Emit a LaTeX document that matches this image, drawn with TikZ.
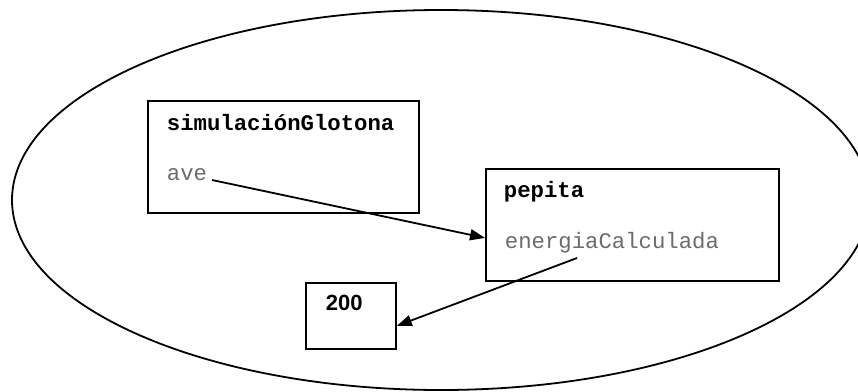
\documentclass[tikz,border=0pt]{standalone}
\usepackage{fontspec}
\setmainfont{Liberation Sans}
\setmonofont{Liberation Mono}
\usetikzlibrary{arrows.meta}
\begin{document}
\begin{tikzpicture}[x=1pt,y=-1pt,line width=1.8pt,
  box/.style={draw, line width=1.8pt, inner sep=0pt, anchor=north west},
  title/.style={font=\fontsize{22.3}{26}\selectfont\ttfamily\bfseries, anchor=base west, inner sep=0pt},
  field/.style={font=\fontsize{22.3}{26}\selectfont\ttfamily, text=black!58, anchor=base west, inner sep=0pt},
  num/.style={font=\fontsize{22}{26}\selectfont\bfseries, anchor=base west, inner sep=0pt},
  conn/.style={-{Triangle[length=15pt,width=11pt]}, line width=1.8pt}]
\useasboundingbox (0,0) rectangle (858,391);
\clip (0,0) rectangle (858,391);
\draw[line width=1.8pt] (441,200) ellipse [x radius=429pt, y radius=190pt];
% boxes
\node[box, minimum width=271pt, minimum height=112pt] (simbox) at (147,100) {};
\node[box, minimum width=293pt, minimum height=112pt] (pepbox) at (485,168) {};
\node[box, minimum width=90pt, minimum height=66pt] (valbox) at (305,282) {};
% texts
\node[title] (simtitle) at (166,130) {simulaciónGlotona};
\node[field] (ave) at (166,180) {ave};
\node[title] (peptitle) at (503,197) {pepita};
\node[field] (energia) at (504,248) {energiaCalculada};
\node[num] (v200) at (325,310) {200};
% connectors
\coordinate (aveout) at (212,180);
\coordinate (eneout) at (577,258);
\draw[conn] (aveout) -- ([yshift=-13pt]pepbox.west);
\draw[conn] (eneout) -- ([yshift=-10pt]valbox.east);
\end{tikzpicture}
\end{document}
